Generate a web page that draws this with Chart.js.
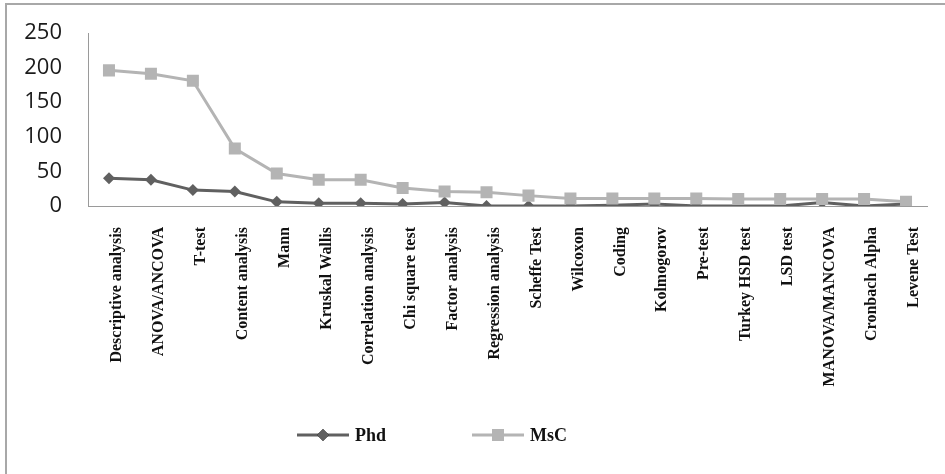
<!DOCTYPE html>
<html>
<head>
<meta charset="utf-8">
<script src="https://cdn.jsdelivr.net/npm/chart.js@4"></script>
<style>
  html, body { margin: 0; padding: 0; background: #fff; }
  #wrap { position: relative; width: 945px; height: 474px; overflow: hidden; }
  #frame { position: absolute; left: 5px; top: 3px; width: 1000px; height: 600px;
           border-top: 2px solid #a8a8a8; border-left: 2px solid #a8a8a8; }
  #c { position: absolute; left: 0; top: 0; }
</style>
</head>
<body>
<div id="wrap">
  <div id="frame"></div>
  <canvas id="c" width="945" height="474"></canvas>
</div>
<script>
// Statistical methods used in theses, by degree
const categories = [
  'Descriptive analysis', 'ANOVA/ANCOVA', 'T-test', 'Content analysis', 'Mann',
  'Kruskal Wallis', 'Correlation analysis', 'Chi square test', 'Factor analysis',
  'Regression analysis', 'Scheffe Test', 'Wilcoxon', 'Coding', 'Kolmogorov',
  'Pre-test', 'Turkey HSD test', 'LSD test', 'MANOVA/MANCOVA', 'Cronbach Alpha',
  'Levene Test'
];
const phdValues = [40, 38, 23, 21, 6, 4, 4, 3, 5, 0, 0, 0, 1, 3, 0, 0, 0, 5, 0, 3];
const mscValues = [196, 191, 181, 83, 47, 38, 38, 26, 21, 20, 15, 11, 11, 11, 11, 10, 10, 10, 10, 6];
const yTicks = [0, 50, 100, 150, 200, 250];

const phdColor = '#606060';
const mscColor = '#b4b4b4';

// Legend entries: a short line with the series marker in the middle
const lineLegend = {
  id: 'lineLegend',
  afterDraw(chart) {
    const ctx = chart.ctx;
    const y = 435;
    const items = [
      { x: 297, ds: chart.data.datasets[0] },
      { x: 472, ds: chart.data.datasets[1] }
    ];
    ctx.save();
    items.forEach(({ x, ds }) => {
      ctx.strokeStyle = ds.borderColor;
      ctx.lineWidth = 3;
      ctx.beginPath();
      ctx.moveTo(x, y);
      ctx.lineTo(x + 52, y);
      ctx.stroke();
      Chart.helpers.drawPoint(ctx, {
        pointStyle: ds.pointStyle,
        radius: ds.pointRadius,
        borderWidth: 0
      }, x + 26, y);
      ctx.fillStyle = ds.backgroundColor;
      ctx.fill();
      ctx.fillStyle = '#111';
      ctx.font = 'bold 18px "Liberation Serif", serif';
      ctx.textBaseline = 'middle';
      ctx.textAlign = 'left';
      ctx.fillText(ds.label, x + 58, y + 1);
    });
    ctx.restore();
  }
};

new Chart(document.getElementById('c'), {
  type: 'line',
  data: {
    labels: categories,
    datasets: [
      {
        label: 'Phd',
        data: phdValues,
        borderColor: phdColor,
        backgroundColor: phdColor,
        borderWidth: 3,
        pointStyle: 'rectRot',
        pointRadius: 6,
        pointBorderWidth: 0,
        tension: 0,
        order: 1
      },
      {
        label: 'MsC',
        data: mscValues,
        borderColor: mscColor,
        backgroundColor: mscColor,
        borderWidth: 3,
        pointStyle: 'rect',
        pointRadius: 8.5,
        pointBorderWidth: 0,
        tension: 0,
        order: 0
      }
    ]
  },
  options: {
    responsive: false,
    animation: false,
    layout: { padding: { top: 33, right: 18, left: 0, bottom: 0 } },
    plugins: {
      legend: { display: false },
      tooltip: { enabled: false }
    },
    scales: {
      x: {
        type: 'category',
        offset: true,
        grid: { display: false, drawTicks: false },
        border: { display: true, color: '#9a9a9a', width: 1 },
        afterFit(scale) {
          scale.height = 268;
          scale.paddingLeft = 0; scale.paddingRight = 0;
          scale.paddingTop = 0; scale.paddingBottom = 0;
        },
        ticks: {
          autoSkip: false,
          minRotation: 90,
          maxRotation: 90,
          padding: 21,
          labelOffset: 8,
          color: '#111',
          font: { family: '"Liberation Serif", serif', size: 16, weight: 'bold' }
        }
      },
      y: {
        min: 0,
        max: 250,
        afterFit(scale) {
          scale.width = 88;
          scale.paddingTop = 0; scale.paddingBottom = 0;
          scale.paddingLeft = 0; scale.paddingRight = 0;
        },
        afterBuildTicks(scale) { scale.ticks = yTicks.map(v => ({ value: v })); },
        grid: { display: false, drawTicks: false },
        border: { display: true, color: '#9a9a9a', width: 1 },
        ticks: {
          padding: 26,
          color: '#1a1a1a',
          font: { family: '"Open Sans", sans-serif', size: 22 }
        }
      }
    }
  },
  plugins: [lineLegend]
});
</script>
</body>
</html>
